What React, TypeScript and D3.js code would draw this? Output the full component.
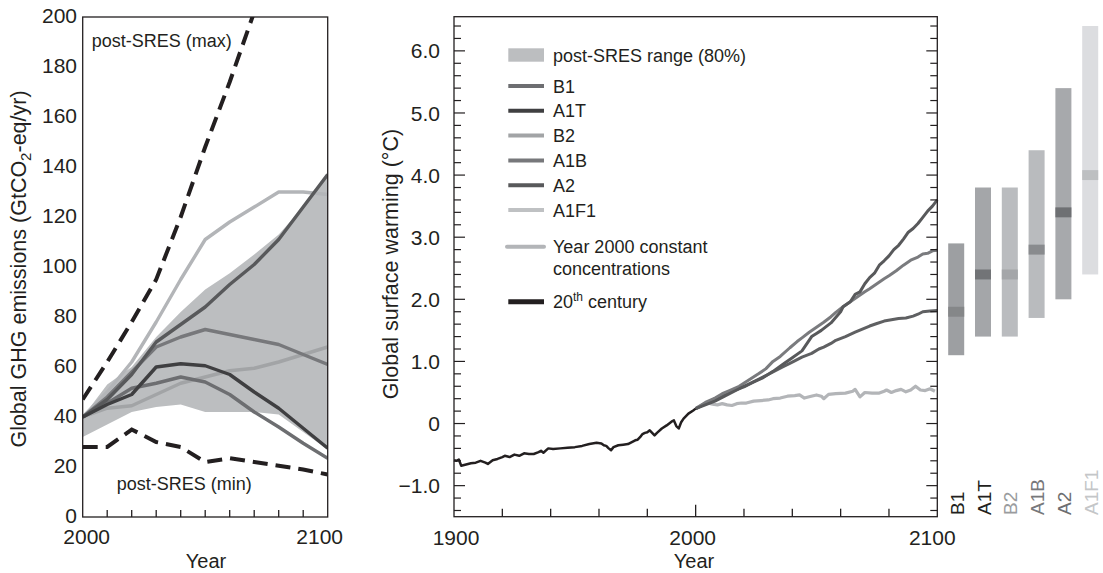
import React from 'react';
import * as d3 from 'd3';

// ---------- Left panel: emissions ----------
const decades = [2000, 2010, 2020, 2030, 2040, 2050, 2060, 2070, 2080, 2090, 2100];
const bandUpper = [40, 53, 60, 72, 82, 91, 97.5, 105, 113, 124, 137];
const bandLower = [32, 37, 42, 44, 45, 42, 42, 42, 41, 34, 27];
const emA1F1 = [40, 50, 62, 78, 95, 111, 118, 124, 130, 130, 129];
const emB2 = [40, 43.5, 44.5, 49, 53.5, 56, 58.5, 59.5, 62, 65, 68];
const emA1B = [40, 48, 58, 68, 72, 75, 73, 71, 69, 65, 61];
const emA2 = [40, 47, 57, 70, 77, 84, 93, 101, 111, 124, 137];
const emA1T = [40, 45, 49, 60, 61.3, 60.5, 57, 50, 43.5, 35.5, 27.5];
const emB1 = [40, 45.5, 51.5, 53.5, 56, 54, 49, 42, 36, 29.5, 23.5];
const maxYears = [2000, 2010, 2020, 2030, 2040, 2050, 2060, 2070];
const maxVals = [47, 62, 78, 95, 120, 148, 174, 202];
const minVals = [28, 28, 35, 30, 28, 22, 23.5, 22, 20.5, 19, 17];
const leftYTicks = [0, 20, 40, 60, 80, 100, 120, 140, 160, 180, 200];
const leftXTicks = [2010, 2020, 2030, 2040, 2050, 2060, 2070, 2080, 2090];

// ---------- Middle panel: warming ----------
const histYears = [1900, 1901, 1902, 1903, 1905, 1907, 1909, 1911, 1913, 1914, 1916, 1918, 1920, 1921, 1923, 1925, 1927, 1929, 1931, 1933, 1935, 1936, 1937, 1939, 1941, 1944, 1947, 1950, 1953, 1956, 1959, 1961, 1962, 1963, 1964, 1965, 1966, 1968, 1970, 1972, 1974, 1975, 1976, 1977, 1978, 1979, 1980, 1981, 1982, 1983, 1984, 1986, 1988, 1990, 1991, 1992, 1993, 1994, 1995, 1997, 1999, 2000];
const histVals = [-0.59, -0.60, -0.58, -0.68, -0.66, -0.64, -0.63, -0.60, -0.63, -0.65, -0.59, -0.57, -0.54, -0.52, -0.54, -0.50, -0.52, -0.48, -0.49, -0.49, -0.46, -0.44, -0.47, -0.40, -0.41, -0.40, -0.39, -0.38, -0.36, -0.33, -0.31, -0.32, -0.35, -0.36, -0.40, -0.43, -0.38, -0.35, -0.34, -0.33, -0.29, -0.27, -0.26, -0.22, -0.17, -0.15, -0.14, -0.11, -0.15, -0.19, -0.15, -0.08, -0.03, 0.03, 0.05, -0.04, -0.08, 0.02, 0.08, 0.16, 0.21, 0.24];

const a2Years = [2000, 2004, 2008, 2012, 2016, 2020, 2024, 2028, 2032, 2036, 2040, 2044, 2048, 2050, 2052, 2056, 2060, 2061, 2064, 2066, 2068, 2070, 2072, 2074, 2076, 2078, 2080, 2082, 2084, 2086, 2088, 2090, 2092, 2094, 2096, 2098, 2100];
const a2Vals = [0.24, 0.30, 0.36, 0.44, 0.52, 0.60, 0.67, 0.74, 0.84, 0.95, 1.06, 1.17, 1.40, 1.45, 1.50, 1.62, 1.80, 1.88, 1.96, 2.08, 2.12, 2.25, 2.35, 2.42, 2.55, 2.62, 2.70, 2.80, 2.87, 2.97, 3.08, 3.14, 3.22, 3.32, 3.42, 3.50, 3.60];
const a1bYears = [2000, 2004, 2008, 2011, 2014, 2018, 2022, 2026, 2029, 2032, 2035, 2039, 2042, 2044, 2047, 2050, 2053, 2056, 2058, 2061, 2064, 2067, 2070, 2072, 2075, 2078, 2080, 2083, 2086, 2089, 2092, 2094, 2096, 2098, 2100];
const a1bVals = [0.24, 0.34, 0.41, 0.48, 0.53, 0.60, 0.70, 0.80, 0.88, 1.00, 1.08, 1.22, 1.32, 1.38, 1.47, 1.55, 1.63, 1.72, 1.79, 1.88, 1.96, 2.04, 2.12, 2.17, 2.25, 2.33, 2.38, 2.46, 2.55, 2.63, 2.68, 2.73, 2.74, 2.78, 2.79];
const b1Years = [2000, 2004, 2008, 2011, 2015, 2020, 2024, 2028, 2032, 2036, 2040, 2044, 2048, 2051, 2053, 2056, 2058, 2062, 2066, 2069, 2072, 2075, 2078, 2081, 2084, 2087, 2090, 2092, 2094, 2097, 2100];
const b1Vals = [0.24, 0.32, 0.40, 0.46, 0.52, 0.59, 0.67, 0.75, 0.83, 0.91, 0.99, 1.07, 1.13, 1.20, 1.23, 1.29, 1.34, 1.40, 1.47, 1.52, 1.57, 1.61, 1.65, 1.67, 1.69, 1.70, 1.73, 1.76, 1.80, 1.81, 1.82];
const constYears = [2000, 2003, 2005, 2007, 2009, 2011, 2013, 2015, 2017, 2019, 2021, 2024, 2027, 2030, 2032, 2035, 2038, 2041, 2043, 2045, 2047, 2050, 2052, 2053, 2055, 2058, 2062, 2065, 2066, 2068, 2070, 2073, 2076, 2078, 2079, 2081, 2083, 2085, 2087, 2089, 2091, 2093, 2095, 2097, 2099];
const constVals = [0.24, 0.30, 0.33, 0.31, 0.30, 0.32, 0.30, 0.29, 0.32, 0.33, 0.33, 0.36, 0.37, 0.38, 0.40, 0.41, 0.44, 0.45, 0.46, 0.41, 0.43, 0.46, 0.44, 0.40, 0.47, 0.48, 0.49, 0.52, 0.55, 0.43, 0.50, 0.49, 0.49, 0.52, 0.54, 0.50, 0.53, 0.55, 0.51, 0.54, 0.60, 0.54, 0.53, 0.56, 0.52];

// ---------- Right bars ----------
const barCats = ['B1', 'A1T', 'B2', 'A1B', 'A2', 'A1F1'];
const barLow = [1.1, 1.4, 1.4, 1.7, 2.0, 2.4];
const barHigh = [2.9, 3.8, 3.8, 4.4, 5.4, 6.4];
const barBest = [1.8, 2.4, 2.4, 2.8, 3.4, 4.0];
const barFill = ['#9d9fa2', '#a4a6a9', '#babcbf', '#b9bbbe', '#a7a9ac', '#dcdde0'];
const barBand = ['#858789', '#727477', '#a4a6a9', '#898b8e', '#6e7073', '#bdbfc1'];
const barLabelColor = ['#231f20', '#231f20', '#9a9c9e', '#77787b', '#6d6e71', '#c4c6c8'];

// ---------- Legend ----------
const legendNames = ['B1', 'A1T', 'B2', 'A1B', 'A2', 'A1F1'];
const legendColors = ['#6d6e71', '#3f3f41', '#a2a4a6', '#77787b', '#58595b', '#bfc1c3'];

const INK = '#231f20';
const FONT = '"Liberation Sans", Arial, Helvetica, sans-serif';
const TICK_FS = 21;
const TITLE_FS = 21.5;

export default function App() {
  // Left scales
  const xL = d3.scaleLinear().domain([2000, 2100]).range([82.7, 327.7]);
  const yL = d3.scaleLinear().domain([0, 200]).range([517, 17]);
  const lineL = (ys: number[], xs: number[] = decades) =>
    d3.line<number>().x((_, i) => xL(xs[i])).y((d) => yL(d))(ys) || '';
  const bandArea =
    d3
      .area<number>()
      .x((_, i) => xL(decades[i]))
      .y0((_, i) => yL(bandLower[i]))
      .y1((d) => yL(d))(bandUpper) || '';

  // Middle scales
  const xM = d3.scaleLinear().domain([1900, 2100]).range([454, 937.3]);
  const yM = d3.scaleLinear().domain([-1.5, 6.55]).range([516.7, 16.7]);
  const lineM = (xs: number[], ys: number[]) =>
    d3.line<number>().x((_, i) => xM(xs[i])).y((d) => yM(d))(ys) || '';
  const yMinor = d3.range(-14, 65, 2).map((v) => v / 10);
  const yMajor = [-1, 0, 1, 2, 3, 4, 5, 6];
  const xMTicks = [1920, 1940, 1960, 1980, 2000, 2020, 2040, 2060, 2080];

  const xBar = d3.scalePoint<string>().domain(barCats).range([956.2, 1090.2]);
  const barW = 16;

  const leftEmLines = [
    { v: emA1F1, c: '#b3b5b8' },
    { v: emB2, c: '#a2a4a6' },
    { v: emA1B, c: '#77787b' },
    { v: emB1, c: '#6d6e71' },
    { v: emA2, c: '#58595b' },
    { v: emA1T, c: '#3f3f41' },
  ];

  const legendY = d3.scaleLinear().domain([0, 5]).range([86, 210]);

  return (
    <svg
      width={1103}
      height={573}
      style={{ position: 'absolute', left: 0, top: 0, background: '#fff' }}
      fontFamily={FONT}
    >
      <rect x={0} y={0} width={1103} height={573} fill="#fff" />
      <defs>
        <clipPath id="clipL">
          <rect x={xL(2000)} y={yL(200)} width={xL(2100) - xL(2000)} height={yL(0) - yL(200)} />
        </clipPath>
      </defs>

      {/* ===== Left panel ===== */}
      <g clipPath="url(#clipL)">
        <path d={bandArea} fill="#bcbec0" />
        {leftEmLines.map((l, i) => (
          <path key={i} d={lineL(l.v)} fill="none" stroke={l.c} strokeWidth={3.4} strokeLinejoin="round" />
        ))}
        <path d={lineL(maxVals, maxYears)} fill="none" stroke={INK} strokeWidth={4} strokeDasharray="15 8" />
        <path d={lineL(minVals)} fill="none" stroke={INK} strokeWidth={4} strokeDasharray="15 8" />
      </g>
      <rect
        x={xL(2000)}
        y={yL(200)}
        width={xL(2100) - xL(2000)}
        height={yL(0) - yL(200)}
        fill="none"
        stroke={INK}
        strokeWidth={1.3}
      />
      {leftXTicks.map((t) => (
        <line key={t} x1={xL(t)} x2={xL(t)} y1={yL(0)} y2={yL(0) - 7} stroke={INK} strokeWidth={1.3} />
      ))}
      {leftYTicks.map((t) => (
        <text key={t} x={77} y={yL(t) - 2} dy="0.36em" textAnchor="end" fontSize={TICK_FS} fill={INK}>
          {t}
        </text>
      ))}
      <text x={xL(2000) + 4} y={544} textAnchor="middle" fontSize={TICK_FS} fill={INK}>2000</text>
      <text x={xL(2100) - 8} y={544} textAnchor="middle" fontSize={TICK_FS} fill={INK}>2100</text>
      <text x={206} y={568} textAnchor="middle" fontSize={20} fill={INK}>Year</text>
      <text
        transform={`translate(26, ${yL(100) + 2}) rotate(-90)`}
        textAnchor="middle"
        fontSize={TITLE_FS}
        fill={INK}
      >
        Global GHG emissions (GtCO
        <tspan fontSize={15} dy={5}>2</tspan>
        <tspan dy={-5}>-eq/yr)</tspan>
      </text>
      <text x={91.7} y={46.7} fontSize={18} fill={INK}>post-SRES (max)</text>
      <text x={116.7} y={490} fontSize={18} fill={INK}>post-SRES (min)</text>

      {/* ===== Middle panel ===== */}
      <path d={lineM(constYears, constVals)} fill="none" stroke="#b3b5b8" strokeWidth={3.2} strokeLinejoin="round" />
      <path d={lineM(b1Years, b1Vals)} fill="none" stroke="#5f6062" strokeWidth={3} strokeLinejoin="round" />
      <path d={lineM(a1bYears, a1bVals)} fill="none" stroke="#7a7b7e" strokeWidth={3} strokeLinejoin="round" />
      <path d={lineM(a2Years, a2Vals)} fill="none" stroke="#58595b" strokeWidth={3} strokeLinejoin="round" />
      <path d={lineM(histYears, histVals)} fill="none" stroke={INK} strokeWidth={2.5} strokeLinejoin="round" />

      <rect
        x={xM(1900)}
        y={yM(6.55)}
        width={xM(2100) - xM(1900)}
        height={yM(-1.5) - yM(6.55)}
        fill="none"
        stroke={INK}
        strokeWidth={1.3}
      />
      {yMinor.map((v) => {
        const major = yMajor.some((m) => Math.abs(m - v) < 1e-6);
        const len = major ? 11 : 7;
        return (
          <g key={v}>
            <line x1={xM(1900)} x2={xM(1900) + len} y1={yM(v)} y2={yM(v)} stroke={INK} strokeWidth={1.2} />
            <line x1={xM(2100)} x2={xM(2100) - len} y1={yM(v)} y2={yM(v)} stroke={INK} strokeWidth={1.2} />
          </g>
        );
      })}
      {yMajor.map((v) => (
        <text key={v} x={440} y={yM(v)} dy="0.36em" textAnchor="end" fontSize={TICK_FS} fill={INK}>
          {v === 0 ? '0' : v < 0 ? `\u2212${Math.abs(v).toFixed(1)}` : v.toFixed(1)}
        </text>
      ))}
      {xMTicks.map((t) => (
        <line
          key={t}
          x1={xM(t)}
          x2={xM(t)}
          y1={yM(-1.5)}
          y2={yM(-1.5) - (t === 2000 ? 12 : 8)}
          stroke={INK}
          strokeWidth={1.3}
        />
      ))}
      <text x={xM(1900) + 2} y={545} textAnchor="middle" fontSize={TICK_FS} fill={INK}>1900</text>
      <text x={xM(2000) - 3} y={545} textAnchor="middle" fontSize={TICK_FS} fill={INK}>2000</text>
      <text x={xM(2100) - 5} y={545} textAnchor="middle" fontSize={TICK_FS} fill={INK}>2100</text>
      <text x={694} y={568} textAnchor="middle" fontSize={20} fill={INK}>Year</text>
      <text
        transform={`translate(398, 264) rotate(-90)`}
        textAnchor="middle"
        fontSize={TITLE_FS}
        fill={INK}
      >
        Global surface warming (°C)
      </text>

      {/* Legend */}
      <rect x={508.3} y={48.3} width={35.7} height={13.4} fill="#bcbec0" />
      <text x={553} y={61.5} fontSize={18} fill={INK}>post-SRES range (80%)</text>
      {legendNames.map((n, i) => (
        <g key={n}>
          <line x1={508.3} x2={544} y1={legendY(i)} y2={legendY(i)} stroke={legendColors[i]} strokeWidth={4} />
          <text x={553} y={legendY(i) + 6.5} fontSize={18} fill={INK}>{n}</text>
        </g>
      ))}
      <line x1={507} x2={544} y1={246.7} y2={246.7} stroke="#b3b5b8" strokeWidth={4} strokeLinecap="round" />
      <text x={553} y={253.2} fontSize={18} fill={INK}>Year 2000 constant</text>
      <text x={553} y={275} fontSize={18} fill={INK}>concentrations</text>
      <line x1={508.3} x2={544} y1={301.7} y2={301.7} stroke={INK} strokeWidth={5} />
      <text x={553} y={308.2} fontSize={18} fill={INK}>
        20
        <tspan fontSize={12} dy={-7}>th</tspan>
        <tspan dy={7}> century</tspan>
      </text>

      {/* Bars */}
      {barCats.map((c, i) => {
        const cx = xBar(c) as number;
        return (
          <g key={c}>
            <rect x={cx - barW / 2} y={yM(barHigh[i])} width={barW} height={yM(barLow[i]) - yM(barHigh[i])} fill={barFill[i]} />
            <rect x={cx - barW / 2} y={yM(barBest[i] + 0.08)} width={barW} height={yM(barBest[i] - 0.08) - yM(barBest[i] + 0.08)} fill={barBand[i]} />
            <text
              transform={`translate(${cx + 7.5}, 515) rotate(-90)`}
              fontSize={19}
              fill={barLabelColor[i]}
            >
              {c}
            </text>
          </g>
        );
      })}
    </svg>
  );
}
